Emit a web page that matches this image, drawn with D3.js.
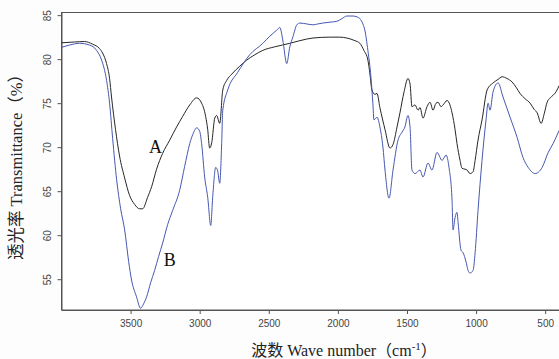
<!DOCTYPE html>
<html>
<head>
<meta charset="utf-8">
<script src="https://cdn.jsdelivr.net/npm/d3@7"></script>
<style>
  html, body { margin: 0; padding: 0; background: #fdfdfd; }
  svg { display: block; }
</style>
</head>
<body>
<div id="chart"></div>
<script>
// spectrum A (black)
const waveA = [4007, 3906, 3833, 3775, 3725, 3703, 3674, 3652, 3638, 3609, 3580, 3543, 3507, 3471, 3435, 3413,
  3377, 3348, 3312, 3268, 3217, 3167, 3123, 3072, 3022, 2986, 2957, 2942, 2928, 2913, 2891, 2877, 2855, 2833,
  2804, 2768, 2710, 2659, 2601, 2543, 2457, 2348, 2275, 2181, 2058, 1986, 1935, 1877, 1841, 1812, 1783, 1768,
  1754, 1732, 1717, 1696, 1659, 1623, 1601, 1572, 1551, 1521, 1493, 1478, 1464, 1442, 1420, 1406, 1384, 1355,
  1333, 1312, 1290, 1275, 1254, 1239, 1210, 1189, 1174, 1152, 1138, 1116, 1102, 1080, 1065, 1044, 1022, 1007,
  986, 957, 920, 877, 841, 812, 776, 739, 710, 682, 645, 609, 580, 558, 529, 507, 486, 464, 443, 421, 399];
const transA = [81.85, 81.95, 82.0, 81.7, 81.2, 80.7, 79.5, 77.8, 75.7, 72.0, 69.0, 66.5, 64.5, 63.5, 63.0, 63.0,
  64.3, 65.5, 67.5, 69.3, 70.8, 72.3, 73.5, 74.8, 75.6, 75.0, 73.5, 72.0, 69.9, 70.5, 73.3, 73.6, 72.7, 76.5,
  77.6, 78.3, 79.2, 79.9, 80.5, 81.0, 81.4, 81.8, 82.1, 82.4, 82.5, 82.5, 82.4, 82.1, 81.8, 81.0, 79.9, 78.3,
  76.5, 76.0, 76.1, 74.5, 72.0, 69.9, 70.3, 72.3, 73.9, 76.3, 77.8, 77.2, 74.6, 74.8, 74.2, 74.5, 73.3, 74.6,
  75.1, 74.2, 75.0, 75.1, 74.6, 74.8, 75.3, 74.8, 73.9, 72.0, 70.4, 68.5, 67.6, 67.5, 67.4, 67.0, 67.2, 68.5,
  70.8, 73.1, 76.5, 77.3, 77.7, 78.0, 77.8, 77.4, 76.8, 76.1, 75.5, 75.0, 74.3, 73.9, 72.7, 73.8, 75.1, 75.6,
  75.9, 76.3, 77.0];

// spectrum B (blue)
const waveB = [4007, 3942, 3870, 3797, 3746, 3710, 3674, 3652, 3630, 3601, 3572, 3543, 3514, 3493, 3457, 3428,
  3406, 3384, 3355, 3326, 3297, 3268, 3232, 3196, 3145, 3109, 3072, 3043, 3022, 3000, 2986, 2964, 2942, 2920,
  2906, 2884, 2870, 2855, 2841, 2833, 2797, 2725, 2638, 2543, 2493, 2442, 2420, 2399, 2370, 2348, 2326, 2297,
  2275, 2225, 2181, 2145, 2109, 2058, 2007, 1971, 1935, 1891, 1862, 1841, 1819, 1805, 1783, 1761, 1747, 1739,
  1717, 1696, 1674, 1659, 1630, 1601, 1565, 1536, 1515, 1493, 1478, 1464, 1442, 1406, 1384, 1348, 1319, 1283,
  1246, 1217, 1196, 1174, 1167, 1152, 1138, 1130, 1109, 1094, 1073, 1058, 1044, 1022, 1007, 986, 957, 928,
  913, 899, 877, 841, 805, 754, 703, 660, 623, 573, 522, 478, 443, 399];
const transB = [81.3, 81.6, 81.8, 81.6, 81.0, 79.9, 77.6, 75.0, 71.0, 66.3, 63.0, 60.6, 57.0, 54.9, 53.0, 51.7,
  52.2, 53.0, 54.6, 56.0, 57.6, 59.1, 61.2, 62.8, 65.1, 67.8, 70.4, 71.7, 72.2, 71.8, 70.4, 66.6, 64.3, 61.1,
  64.3, 67.7, 67.3, 65.9, 70.4, 74.2, 76.5, 78.5, 80.5, 81.8, 82.6, 83.3, 83.6, 82.2, 79.5, 81.4, 82.5, 83.9,
  84.1, 84.0, 83.9, 84.0, 84.1, 84.2, 84.3, 84.6, 84.9, 84.9, 84.8, 84.6, 84.0, 83.3, 81.0, 78.0, 75.0, 73.1,
  73.4, 72.3, 70.0, 67.4, 64.2, 67.4, 70.8, 71.7, 72.3, 73.6, 72.3, 67.4, 67.0, 67.4, 66.6, 68.2, 67.4, 69.4,
  68.5, 69.1, 67.7, 64.0, 60.6, 62.0, 62.6, 61.4, 58.3, 58.0, 57.0, 56.0, 55.7, 56.0, 58.0, 62.8, 68.5, 73.1,
  75.0, 74.2, 76.3, 77.3, 75.7, 73.4, 71.1, 68.8, 67.7, 67.0, 67.7, 69.4, 70.4, 71.9];

const xTicks = [3500, 3000, 2500, 2000, 1500, 1000, 500];
const yTicks = [55, 60, 65, 70, 75, 80, 85];
const seriesNames = ['A', 'B'];
const labelPos = [[3319, 70.0], [3217, 57.2]];

const width = 559, height = 359;
const plotLeft = 61.5, plotTop = 12.5, plotBottom = 310;

const svg = d3.select('#chart').append('svg').attr('width', width).attr('height', height);

const x = d3.scaleLinear().domain([4000, 400]).range([plotLeft, 559]);
const y = d3.scaleLinear().domain([51.5, 85.3]).range([plotBottom, plotTop]);

svg.append('defs').append('clipPath').attr('id', 'plot')
  .append('rect').attr('x', plotLeft).attr('y', plotTop)
  .attr('width', width - plotLeft).attr('height', plotBottom - plotTop);

svg.append('rect')
  .attr('x', plotLeft).attr('y', plotTop).attr('width', width - plotLeft + 5).attr('height', plotBottom - plotTop)
  .style('fill', '#ffffff').style('stroke', '#555').style('stroke-width', 1);

// axes
const xAxis = svg.append('g').attr('transform', `translate(0,${plotBottom})`)
  .call(d3.axisBottom(x).tickValues(xTicks).tickFormat(d3.format('d')).tickSize(4).tickPadding(6).tickSizeOuter(0));
const yAxis = svg.append('g').attr('transform', `translate(${plotLeft},0)`)
  .call(d3.axisLeft(y).tickValues(yTicks).tickFormat(d3.format('d')).tickSize(4).tickPadding(5).tickSizeOuter(0));

[xAxis, yAxis].forEach(g => {
  g.select('.domain').style('stroke', '#555');
  g.selectAll('.tick line').style('stroke', '#555');
  g.selectAll('.tick text').style('font-family', '"Liberation Sans", Arial, sans-serif')
    .style('font-size', '10px').style('fill', '#444');
});
// rotated y tick labels
yAxis.selectAll('.tick text')
  .attr('x', 0).attr('dy', null)
  .attr('text-anchor', 'middle').attr('dominant-baseline', 'central')
  .attr('transform', 'translate(-14,0) rotate(-90)');

// curves
const line = d3.line().x(d => x(d[0])).y(d => y(d[1])).curve(d3.curveMonotoneX);
const curves = svg.append('g').attr('clip-path', 'url(#plot)');
curves.append('path').datum(d3.zip(waveA, transA)).attr('d', line)
  .style('fill', 'none').style('stroke', '#262626').style('stroke-width', 1);
curves.append('path').datum(d3.zip(waveB, transB)).attr('d', line)
  .style('fill', 'none').style('stroke', '#4657b0').style('stroke-width', 1);

const serif = '"Liberation Serif", "Times New Roman", "Noto Sans CJK SC", serif';

svg.selectAll('text.series').data(seriesNames).enter().append('text')
  .attr('class', 'series')
  .attr('x', (d, i) => x(labelPos[i][0]))
  .attr('y', (d, i) => y(labelPos[i][1]))
  .attr('text-anchor', 'middle').attr('dominant-baseline', 'central')
  .style('font-family', serif).style('font-size', '18px').style('fill', '#111')
  .text(d => d);

// axis titles
const xt = svg.append('text').attr('x', 344).attr('y', 356).attr('text-anchor', 'middle')
  .style('font-family', serif).style('font-size', '16px').style('fill', '#222');
xt.append('tspan').text('波数 Wave number（cm');
xt.append('tspan').attr('dy', -6).style('font-size', '11px').text('-1');
xt.append('tspan').attr('dy', 6).text('）');

svg.append('text').attr('transform', 'translate(22,163) rotate(-90)').attr('text-anchor', 'middle')
  .style('font-family', serif).style('font-size', '16.5px').style('fill', '#222')
  .text('透光率 Transmittance（%）');
</script>
</body>
</html>
